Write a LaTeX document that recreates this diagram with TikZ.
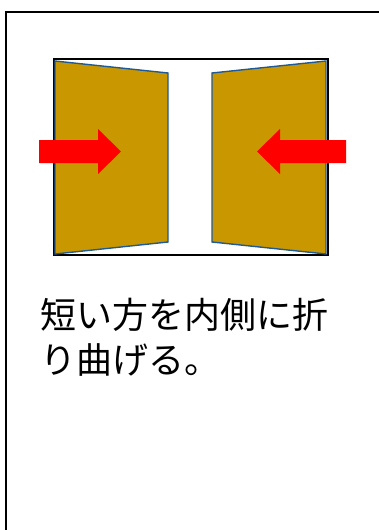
\documentclass[tikz,border=0pt]{standalone}
\usepackage{fontspec}
\newfontfamily\jpfont{Noto Sans CJK JP}
\definecolor{leafgold}{RGB}{201,152,0}
\definecolor{leafedge}{RGB}{31,90,150}
\definecolor{pushred}{RGB}{255,0,0}

\begin{document}
\begin{tikzpicture}[x=1pt,y=-1pt,line join=miter]
  \useasboundingbox (0,0) rectangle (379,530);

  % ---- outer card frame (runs off the right and bottom) -----------------
  \draw[black,line width=2pt] (6,12) rectangle (400,560);

  % ---- sheet outline ------------------------------------------------------
  \draw[black,line width=2.6pt] (54,59) rectangle (328,255);

  % ---- the two flaps, longer edges outside --------------------------------
  \tikzset{flap/.style={fill=leafgold,draw=leafedge,line width=1.4pt}}
  \draw[flap] (55,61) -- (168,73) -- (168,242) -- (55,254) -- cycle;
  \draw[flap] (326,61) -- (212,73) -- (212,242) -- (326,254) -- cycle;

  % ---- push arrows ---------------------------------------------------------
  \def\ay{151.5}
  \fill[pushred] (39,\ay-11.5) -- (98,\ay-11.5) -- (98,\ay-22.5) -- (121,\ay)
        -- (98,\ay+22.5) -- (98,\ay+11.5) -- (39,\ay+11.5) -- cycle;
  \fill[pushred] (346,\ay-11.5) -- (280,\ay-11.5) -- (280,\ay-22.5) -- (257,\ay)
        -- (280,\ay+22.5) -- (280,\ay+11.5) -- (346,\ay+11.5) -- cycle;

  % ---- caption ------------------------------------------------------------
  \node[anchor=base west,inner sep=0pt,font=\jpfont\fontsize{36}{45}\selectfont]
        (line1) at (40,328) {短い方を内側に折};
  \node[anchor=base west,inner sep=0pt,font=\jpfont\fontsize{36}{45}\selectfont]
        (line2) at (40,373) {り曲げる。};

\end{tikzpicture}
\end{document}
